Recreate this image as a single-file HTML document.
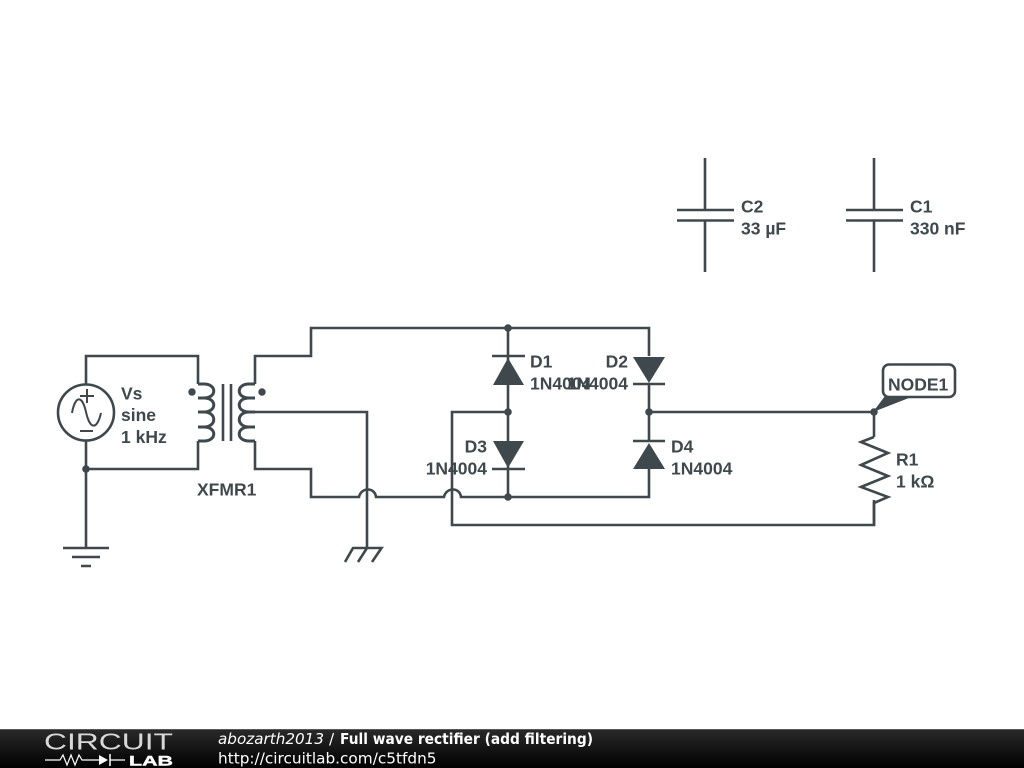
<!DOCTYPE html>
<html>
<head>
<meta charset="utf-8">
<style>
html,body{margin:0;padding:0;background:#fff;width:1024px;height:768px;overflow:hidden}
svg{display:block}
.w{fill:none;stroke:#3f484d;stroke-width:2.6;stroke-linejoin:miter}
.t{font-family:"Liberation Sans",sans-serif;font-weight:bold;font-size:17.5px;fill:#3f484d}
.f{font-family:"DejaVu Sans",sans-serif;font-size:15.3px;fill:#fff}
</style>
</head>
<body>
<svg width="1024" height="768" viewBox="0 0 1024 768" xmlns="http://www.w3.org/2000/svg">
<defs>
<linearGradient id="g" x1="0" y1="0" x2="0" y2="1"><stop offset="0" stop-color="#2a2a2a"/><stop offset="1" stop-color="#000"/></linearGradient>
</defs>
<rect width="1024" height="768" fill="#fff"/>

<!-- source and primary -->
<circle class="w" cx="86" cy="412.5" r="28"/>
<path class="w" d="M86 384.500V356H198V384M86 441V548M86 469H198V441"/>
<path class="w" style="stroke-width:2" d="M72 413C75 396 82 394 86 412C90 430 97 430 101 413M87 389V403M80 396H94M80 431H93"/>
<path class="w" d="M63 548H109M72 557H100M81 566H91"/>

<!-- transformer -->
<path class="w" style="stroke-width:3" d="M198 384H204C217 384 217 398 204 398H198M198 398H204C217 398 217 412 204 412H198M198 412H204C217 412 217 427 204 427H198M198 427H204C217 427 217 441 204 441H198"/>
<path class="w" style="stroke-width:3" d="M255 384H249C236 384 236 398 249 398H255M255 398H249C236 398 236 412 249 412H255M255 412H249C236 412 236 427 249 427H255M255 427H249C236 427 236 441 249 441H255"/>
<path class="w" d="M223 384V441M231 384V441"/>
<circle cx="192" cy="392" r="3.700" fill="#3f484d"/>
<circle cx="262" cy="392" r="3.700" fill="#3f484d"/>

<!-- wires -->
<path class="w" d="M255 384V356H311V328H649V356"/>
<path class="w" d="M255 441V469H311V497H359C361 487 375 487 376 497H444C446 487 460 487 461 497H649V469"/>
<path class="w" d="M255 412H367V548"/>
<path class="w" d="M345 562L353 548H381.500L372 562M358 562L367 548"/>
<path class="w" d="M452 525V412H508M450.700 525H874V500"/>
<path class="w" d="M508 328V497M649 384V441M649 412H874V437"/>

<!-- diodes -->
<path class="w" d="M492 356H525M633 384H665M492 469H525M633 441H665"/>
<path d="M508 358L524 385H493Z M649 383L633 357H665Z M508 468L493 441H524Z M649 443L665 469H633Z" fill="#3f484d"/>

<!-- dots -->
<g fill="#3f484d">
<circle cx="86" cy="469" r="3.800"/>
<circle cx="508" cy="328" r="3.800"/>
<circle cx="508" cy="412" r="3.800"/>
<circle cx="508" cy="497" r="3.800"/>
<circle cx="649" cy="412" r="3.800"/>
<circle cx="874" cy="412" r="3.800"/>
</g>

<!-- resistor -->
<path class="w" d="M874 437L861 442L888 453L861 465L888 476L861 487L888 497L874 503V525"/>

<!-- node label -->
<path d="M873 412L885 396H914Z" fill="#3f484d"/>
<rect x="883" y="364.500" width="72" height="32.500" rx="6" fill="#fff" stroke="#3f484d" stroke-width="2.600"/>
<text class="t" x="888" y="390.500">NODE1</text>

<!-- capacitors -->
<path class="w" d="M705 158V210M677 210H734M677 220.500H734M705 220.500V272"/>
<path class="w" d="M874 158V210M846 210H903M846 220.500H903M874 220.500V272"/>

<!-- labels -->
<text class="t" x="121" y="399.500">Vs</text>
<text class="t" x="121" y="421">sine</text>
<text class="t" x="121" y="443">1 kHz</text>
<text class="t" x="197" y="495.500">XFMR1</text>
<text class="t" x="530" y="367.500">D1</text>
<text class="t" x="530" y="389.500">1N4004</text>
<text class="t" x="628" y="367.500" text-anchor="end">D2</text>
<text class="t" x="628" y="389.500" text-anchor="end">1N4004</text>
<text class="t" x="487" y="452.500" text-anchor="end">D3</text>
<text class="t" x="487" y="474.500" text-anchor="end">1N4004</text>
<text class="t" x="671" y="452.500">D4</text>
<text class="t" x="671" y="474.500">1N4004</text>
<text class="t" x="896" y="465.500">R1</text>
<text class="t" x="896" y="487.500">1 kΩ</text>
<text class="t" x="741" y="212.500">C2</text>
<text class="t" x="741" y="234.500">33 µF</text>
<text class="t" x="910" y="212.500">C1</text>
<text class="t" x="910" y="234.500">330 nF</text>

<!-- footer -->
<rect x="0" y="729" width="1024" height="39" fill="url(#g)"/>
<rect x="0" y="729" width="1024" height="1" fill="#8a8a8a" opacity=".5"/>
<text x="44" y="749.500" font-family="'Liberation Sans',sans-serif" font-size="23" fill="#d8d8d8" textLength="129" lengthAdjust="spacingAndGlyphs">CIRCUIT</text>
<path d="M45 760H60L63 755L67 765L71 755L75 765L79 755L82 760H99M110 760H125" fill="none" stroke="#fff" stroke-width="1.200"/>
<path d="M99 755L108 760L99 765Z" fill="#fff"/>
<path d="M110 754V766" stroke="#fff" stroke-width="1.500"/>
<text x="129" y="765.500" font-family="'Liberation Sans',sans-serif" font-weight="bold" font-size="14" fill="#fff" stroke="#fff" stroke-width=".4" textLength="44" lengthAdjust="spacingAndGlyphs">LAB</text>
<text class="f" x="218" y="744" font-style="italic" textLength="106" lengthAdjust="spacingAndGlyphs">abozarth2013</text>
<text class="f" x="329" y="744">/</text>
<text class="f" x="340" y="744" font-weight="bold" textLength="253" lengthAdjust="spacingAndGlyphs">Full wave rectifier (add filtering)</text>
<text class="f" x="218" y="763.500">http://circuitlab.com/c5tfdn5</text>
</svg>
</body>
</html>
